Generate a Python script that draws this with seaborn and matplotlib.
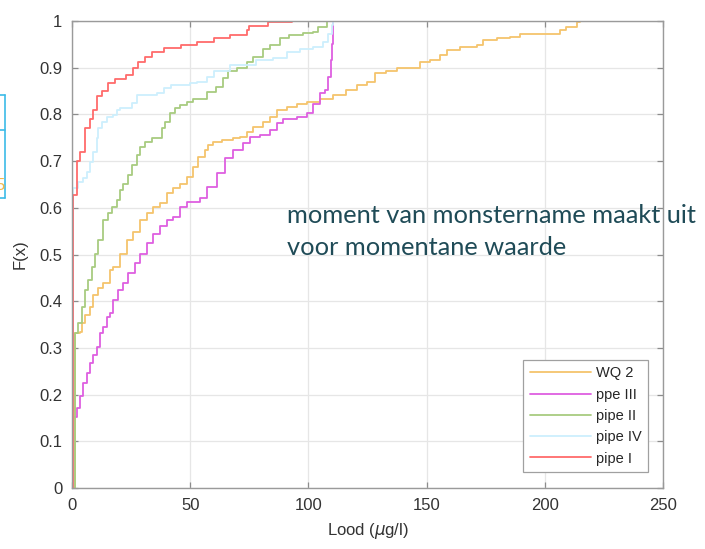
import numpy as np
import pandas as pd
import matplotlib.pyplot as plt
import seaborn as sns
from matplotlib.lines import Line2D

sns.set_theme(style="whitegrid")
plt.rcParams["font.family"] = ["Liberation Sans", "DejaVu Sans"]

# ---- data: jump positions (Lood, ug/l) and F(x) after each jump ----
wq2_x = [0, 1.3, 3.4, 4.1, 5.5, 7.6, 9, 11.1, 13.2, 16, 17.5, 20.3, 23.1, 26, 28.8, 31.6,
         34.4, 37.2, 40, 42.9, 45.7, 48.5, 51.3, 53.4, 56.3, 57.7, 59.8, 63.3, 68.2, 71,
         73.9, 76.7, 80.9, 83.8, 86.6, 90.8, 95, 99.3, 105, 110.5, 116, 120.4, 124.7, 128.2,
         133, 137.4, 147.2, 151.4, 155.7, 158.5, 164, 171.2, 174, 179.6, 185.3, 189.5, 206.4,
         209, 213.5, 215]
wq2_F = [0, 0.331, 0.335, 0.353, 0.37, 0.388, 0.413, 0.428, 0.438, 0.467, 0.474, 0.502,
         0.531, 0.549, 0.574, 0.588, 0.602, 0.61, 0.631, 0.642, 0.652, 0.667, 0.688, 0.709,
         0.724, 0.734, 0.742, 0.745, 0.749, 0.752, 0.763, 0.774, 0.784, 0.795, 0.809, 0.816,
         0.823, 0.827, 0.834, 0.841, 0.852, 0.863, 0.87, 0.888, 0.892, 0.899, 0.913, 0.916,
         0.927, 0.938, 0.945, 0.949, 0.959, 0.963, 0.966, 0.973, 0.98, 0.988, 0.998, 1.0]

ppe3_x = [0, 0.6, 2, 3.4, 4.8, 6.2, 7.6, 9, 10.4, 11.8, 13.2, 14.7, 16, 17.5, 19.6, 21.7,
          23.8, 26.6, 28.8, 31.6, 34.4, 37.2, 40, 42.9, 45.7, 48.5, 54.1, 57, 61.2, 64.7,
          68.2, 72.5, 75.3, 79.5, 83.8, 86.6, 89.4, 95, 99.3, 102, 105, 107, 108.5, 109.5,
          110, 110.3]
ppe3_F = [0, 0.153, 0.171, 0.196, 0.224, 0.246, 0.267, 0.285, 0.303, 0.331, 0.345, 0.367,
          0.374, 0.403, 0.424, 0.438, 0.46, 0.481, 0.502, 0.524, 0.545, 0.56, 0.574, 0.581,
          0.602, 0.613, 0.62, 0.645, 0.674, 0.706, 0.724, 0.738, 0.752, 0.756, 0.767, 0.781,
          0.791, 0.795, 0.802, 0.823, 0.845, 0.852, 0.881, 0.916, 0.95, 1.0]

pipe2_x = [0, 1.3, 2.7, 4.1, 5.5, 6.9, 8.3, 9.7, 11, 13.2, 15.4, 16.8, 18.9, 20.3, 21.7,
           23.8, 25.2, 27.4, 28.8, 30.9, 33.7, 38, 39.3, 41.5, 43.6, 45.7, 48.5, 51.3, 57,
           61, 64, 66, 69.7, 74, 76.7, 81, 83.8, 88, 92, 97.8, 102, 104, 107.7, 108]
pipe2_F = [0, 0.331, 0.353, 0.388, 0.424, 0.445, 0.474, 0.502, 0.531, 0.574, 0.588, 0.602,
           0.617, 0.638, 0.652, 0.67, 0.692, 0.713, 0.731, 0.742, 0.749, 0.77, 0.784, 0.802,
           0.813, 0.82, 0.827, 0.834, 0.849, 0.859, 0.877, 0.892, 0.899, 0.913, 0.924, 0.941,
           0.949, 0.963, 0.97, 0.974, 0.977, 0.988, 0.998, 1.0]

pipe4_x = [0, 0.6, 2.7, 4.8, 6.2, 7.6, 9, 10.4, 11, 12.5, 14.7, 17.4, 19, 20.3, 25.2, 27.4,
           35.8, 39, 42, 50, 52.7, 57, 60, 67, 78, 85, 91, 96.5, 102, 106, 108.5, 110, 110.5]
pipe4_F = [0, 0.642, 0.656, 0.663, 0.677, 0.699, 0.72, 0.749, 0.77, 0.784, 0.795, 0.799,
           0.81, 0.813, 0.824, 0.841, 0.845, 0.857, 0.863, 0.867, 0.87, 0.881, 0.892, 0.906,
           0.916, 0.92, 0.934, 0.941, 0.945, 0.956, 0.973, 0.991, 1.0]

pipe1_x = [0, 0.5, 2, 3.4, 5.5, 7.6, 9, 10.4, 12.5, 15.3, 18.2, 23, 26, 28, 31, 34, 39, 46,
           53, 60, 67, 74, 75, 83, 93]
pipe1_F = [0, 0.627, 0.70, 0.72, 0.77, 0.79, 0.81, 0.84, 0.85, 0.867, 0.876, 0.884, 0.90,
           0.913, 0.924, 0.934, 0.942, 0.948, 0.956, 0.963, 0.97, 0.98, 0.99, 0.998, 1.0]

series_names = ["WQ 2", "ppe III", "pipe II", "pipe IV", "pipe I"]
series_x = [wq2_x, ppe3_x, pipe2_x, pipe4_x, pipe1_x]
series_F = [wq2_F, ppe3_F, pipe2_F, pipe4_F, pipe1_F]
colors = ["#f5c46c", "#de5fe0", "#a8cc80", "#cdeffd", "#ff6b6b"]

x_ticks = [0, 50, 100, 150, 200, 250]
y_ticks = [0, 0.1, 0.2, 0.3, 0.4, 0.5, 0.6, 0.7, 0.8, 0.9, 1]
y_tick_labels = ["0", "0.1", "0.2", "0.3", "0.4", "0.5", "0.6", "0.7", "0.8", "0.9", "1"]

df = pd.concat([pd.DataFrame({"x": xs, "F": fs, "serie": name})
                for name, xs, fs in zip(series_names, series_x, series_F)],
               ignore_index=True)

# ---- figure ----
fig = plt.figure(figsize=(7.05, 5.49), dpi=100)
ax = fig.add_axes([0.1021, 0.1111, 0.8383, 0.8506])

sns.lineplot(data=df, x="x", y="F", hue="serie", hue_order=series_names,
             palette=dict(zip(series_names, colors)), estimator=None, sort=False,
             drawstyle="steps-post", linewidth=1.3, ax=ax, legend=False)

ax.set_xlim(0, 250)
ax.set_ylim(0, 1)
ax.set_xticks(x_ticks)
ax.set_yticks(y_ticks)
ax.set_yticklabels(y_tick_labels)
ax.grid(True, color="#e6e6e6", linewidth=0.9)
for sp in ax.spines.values():
    sp.set_color("#9a9a9a")
    sp.set_linewidth(1.0)
ax.tick_params(axis="both", direction="in", length=4, width=0.9, color="#8c8c8c",
               top=True, right=True, bottom=True, left=True,
               labelsize=12, labelcolor="#333333", pad=7)
ax.set_xlabel("Lood ($\\mu$g/l)", fontsize=12, color="#333333", labelpad=6)
ax.set_ylabel("F(x)", fontsize=12, color="#333333", labelpad=8)

handles = [Line2D([0], [0], color=c, lw=1.3) for c in colors]
leg = ax.legend(handles, series_names, loc="lower right", bbox_to_anchor=(0.975, 0.034),
                borderaxespad=0, fontsize=10.5, handlelength=4.2, handletextpad=0.35,
                labelspacing=0.5, frameon=True, fancybox=False, framealpha=1,
                borderpad=0.45)
leg.get_frame().set_edgecolor("#a0a0a0")
leg.get_frame().set_linewidth(0.9)
for t in leg.get_texts():
    t.set_color("#262626")

# slide annotation
note_color = "#1f4b57"
ax.text(90.9, 0.567, "moment van monstername maakt uit", fontsize=18.3, color=note_color,
        family=["Lato", "DejaVu Sans"], ha="left", va="baseline", clip_on=False)
ax.text(90.9, 0.498, "voor momentane waarde", fontsize=18.3, color=note_color,
        family=["Lato", "DejaVu Sans"], ha="left", va="baseline", clip_on=False)

# fragment of a neighbouring slide object at the left edge
box_c = "#3cbbe8"
fx = 4.7 / 705
fig.add_artist(Line2D([fx, fx], [1 - 95 / 549, 1 - 198 / 549], transform=fig.transFigure,
                      color=box_c, lw=1.2))
for yy in [95, 130.5, 198]:
    fig.add_artist(Line2D([0, fx], [1 - yy / 549, 1 - yy / 549], transform=fig.transFigure,
                          color=box_c, lw=1.2))
fig.text(-0.006, 1 - 185 / 549, "5", color="#f0b84a", fontsize=12, va="center")

fig.savefig("out.png", dpi=100)
